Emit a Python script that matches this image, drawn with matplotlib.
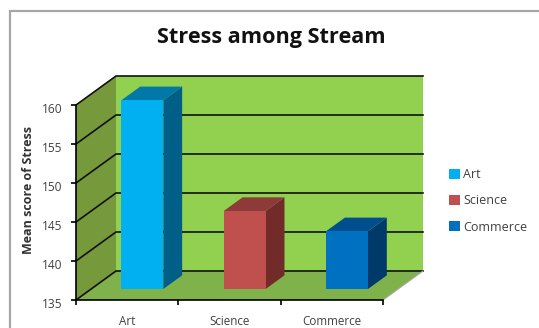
import matplotlib
matplotlib.use('Agg')
import matplotlib.pyplot as plt
from matplotlib.patches import Patch, Rectangle
from matplotlib.transforms import ScaledTranslation

plt.rcParams['font.family'] = ['Open Sans', 'DejaVu Sans']

# data
categories = ['Art', 'Science', 'Commerce']
scores = [159.2, 145.0, 142.4]
y_ticks = [135, 140, 145, 150, 155, 160]

front_colors = ['#00B0F0', '#C0504D', '#0070C0']
side_colors = ['#005F87', '#722B29', '#003A6B']
top_colors = ['#0079A8', '#8E3A38', '#004F8C']

# depth of the fake 3d box, in data units
DEPTH_X = 0.391
DEPTH_Y = 3.72
BAR_W = 0.41
BAR_F0 = 0.38   # front of the bars, as a share of the depth
BAR_F1 = 0.85   # back of the bars


def skew(x, v, f):
    return x + f * DEPTH_X, v + f * DEPTH_Y


def face(ax, corners, color, z):
    pts = [skew(*c) for c in corners]
    ax.fill([p[0] for p in pts], [p[1] for p in pts], color=color, lw=0, zorder=z)


W, H = 539, 328
fig = plt.figure(figsize=(W / 100, H / 100), dpi=100)
fig.add_artist(Rectangle((10 / W, -0.1), 1.1, 0.1 + (H - 11) / H, transform=fig.transFigure,
                         fc='white', ec='#A6A6A6', lw=1.6, zorder=-1))

ax = fig.add_axes([76 / W, (H - 300) / H, (423 - 76) / W, (300 - 76) / H])
ax.set_xlim(0, 3 + DEPTH_X)
ax.set_ylim(135, 160 + DEPTH_Y)
ax.patch.set_visible(False)

n = len(categories)
v0, v1 = y_ticks[0], y_ticks[-1]

# walls and floor
face(ax, [(0, v0, 1), (n, v0, 1), (n, v1, 1), (0, v1, 1)], '#92D050', 1)
face(ax, [(0, v0, 0), (0, v0, 1), (0, v1, 1), (0, v1, 0)], '#76993C', 1)
face(ax, [(0, v0, 0), (n, v0, 0), (n, v0, 1), (0, v0, 1)], '#7FB24A', 1)

# gridlines, side wall then back wall
for v in y_ticks:
    xa, ya = skew(0, v, 0)
    xb, yb = skew(0, v, 1)
    xc, yc = skew(n, v, 1)
    ax.plot([xa, xb, xc], [ya, yb, yc], color='#111111', lw=1.2, zorder=2,
            solid_joinstyle='miter', clip_on=False)
x_r, y_r = skew(n, v0, 1)
ax.plot([x_r, x_r], [y_r, v1 + DEPTH_Y], color='#7F8F6A', lw=0.8, zorder=2)
ax.plot([n, x_r], [v0, y_r], color='#A6A6A6', lw=0.8, zorder=2)

# bars
for i, s in enumerate(scores):
    x0 = i + 0.5 - BAR_W / 2
    x1 = x0 + BAR_W
    face(ax, [(x1, v0, BAR_F0), (x1, v0, BAR_F1), (x1, s, BAR_F1), (x1, s, BAR_F0)], side_colors[i], 3)
    face(ax, [(x0, s, BAR_F0), (x1, s, BAR_F0), (x1, s, BAR_F1), (x0, s, BAR_F1)], top_colors[i], 3)
    face(ax, [(x0, v0, BAR_F0), (x1, v0, BAR_F0), (x1, s, BAR_F0), (x0, s, BAR_F0)], front_colors[i], 4)

# axes
for side in ['top', 'right']:
    ax.spines[side].set_visible(False)
ax.spines['left'].set_bounds(v0, v1)
ax.spines['bottom'].set_bounds(0, n)
ax.spines['left'].set_linewidth(1.2)
ax.spines['bottom'].set_linewidth(1.2)
ax.spines['left'].set_zorder(5)
ax.spines['bottom'].set_zorder(5)

ax.set_yticks(y_ticks)
ax.set_xticks(range(n + 1))
ax.set_xticklabels([])
ax.set_xticks([i + 0.5 for i in range(n)], minor=True)
ax.set_xticklabels(categories, minor=True)
ax.tick_params(axis='x', which='major', length=3.6, width=1.2)
ax.tick_params(axis='x', which='minor', length=0, pad=10.5, labelsize=8.4, labelcolor='#404040')
ax.tick_params(axis='y', length=3.6, width=1.2, pad=6, labelsize=8.6, labelcolor='#404040')
shift = ScaledTranslation(0, -3 / 100, fig.dpi_scale_trans)
for lab in ax.get_yticklabels():
    lab.set_transform(lab.get_transform() + shift)

fig.text(28 / W, (H - 190) / H, 'Mean score of Stress', rotation=90, ha='center', va='center',
         fontsize=9, fontweight='bold', color='#333333')
fig.text(271 / W, (H - 38) / H, 'Stress among Stream', ha='center', va='center',
         fontsize=15.6, fontweight='bold', color='#111111')

handles = [Patch(fc=c, ec='none') for c in front_colors]
fig.legend(handles, categories, loc='center left', bbox_to_anchor=(449 / W, (H - 201) / H),
           frameon=False, fontsize=9, labelcolor='#404040', handlelength=0.88, handleheight=0.88,
           handletextpad=0.25, labelspacing=1.05, borderpad=0, borderaxespad=0)

fig.savefig('out.png', dpi=100)
